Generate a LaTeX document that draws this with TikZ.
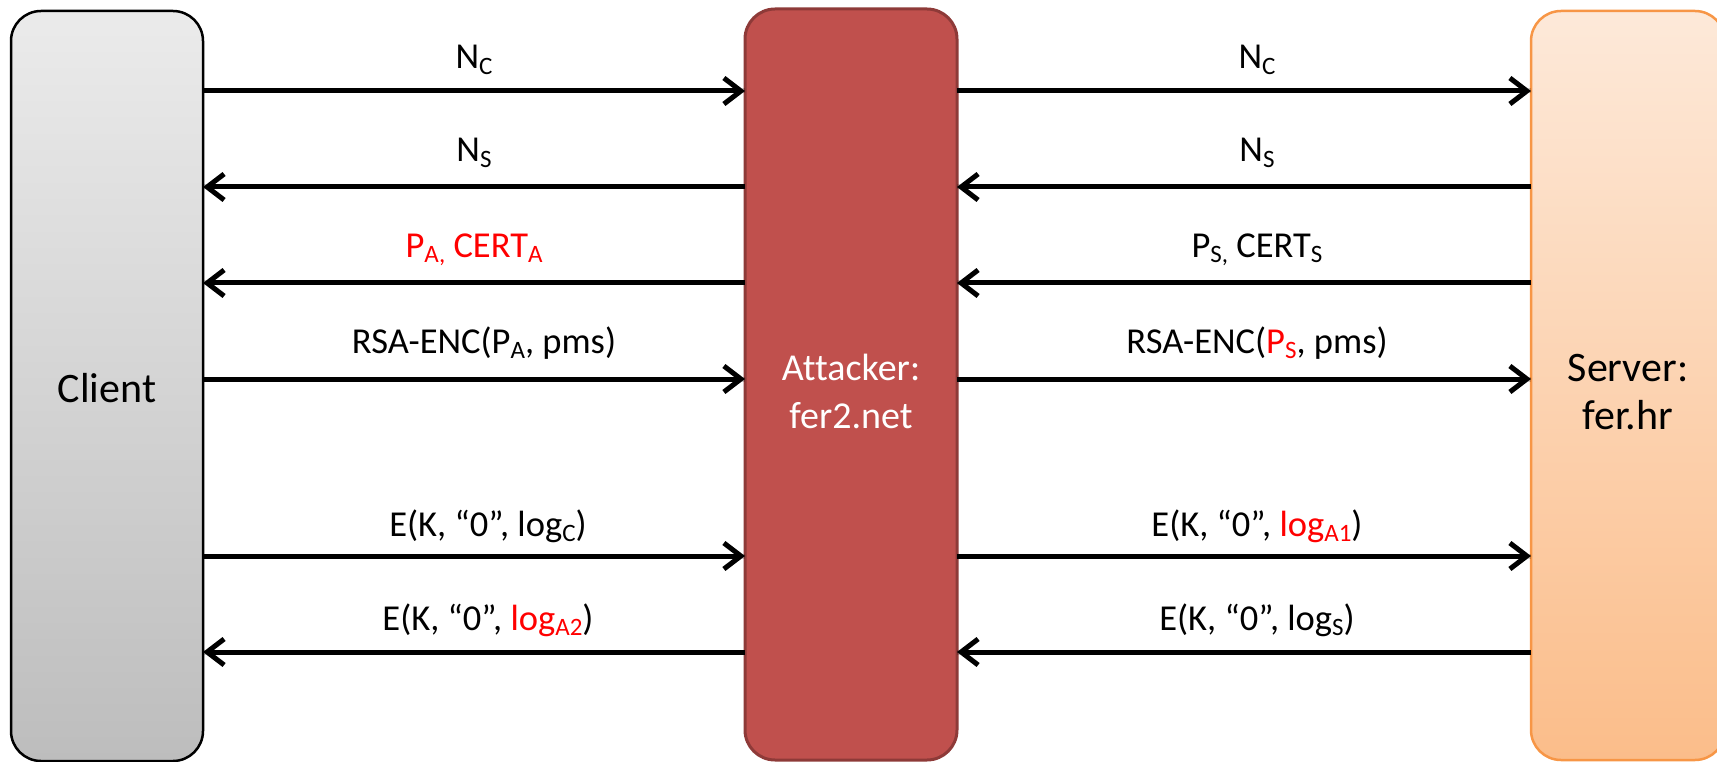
\documentclass[tikz,border=0pt]{standalone}
\usepackage{fontspec}
\setmainfont{Carlito}[Ligatures=NoCommon]
\usetikzlibrary{arrows.meta}

\definecolor{clienttop}{HTML}{EBEBEB}
\definecolor{clientbot}{HTML}{BDBDBD}
\definecolor{attfill}{HTML}{C0504D}
\definecolor{attline}{HTML}{8E3A38}
\definecolor{srvtop}{HTML}{FDE9D9}
\definecolor{srvbot}{HTML}{FBBD8A}
\definecolor{srvline}{HTML}{F79646}
\definecolor{hot}{HTML}{FF0000}

% lowered, smaller index text
\newcommand\lo[1]{\raisebox{-5.5pt}{\fontsize{25}{25}\selectfont #1}}

\tikzset{
  party/.style={rounded corners=30pt, inner sep=0pt, outer sep=0pt},
  partyname/.style={align=center, inner sep=0pt, font=\fontsize{42}{48}\selectfont},
  msg/.style={line width=5pt, -{Straight Barb[length=17pt,width=26pt]}},
  msgshadow/.style={line width=5pt, black, opacity=0.18, yshift=-3.5pt, xshift=1pt},
  lbl/.style={font=\fontsize{36.5}{43}\selectfont, inner sep=0pt}
}

\begin{document}
\begin{tikzpicture}[x=1pt,y=-1pt]
\useasboundingbox (0,0) rectangle (1717,762);

% the three parties
\node[party, draw=black, line width=2.5pt, top color=clienttop, bottom color=clientbot,
      minimum width=192pt, minimum height=750pt] (client) at (107,386) {};
\node[party, draw=attline, line width=3pt, fill=attfill,
      minimum width=212pt, minimum height=751pt] (attacker) at (851,384.5) {};
\node[party, draw=srvline, line width=2.5pt, top color=srvtop, bottom color=srvbot,
      minimum width=194pt, minimum height=749pt] (server) at (1628,385.5) {};

\node[partyname] (clientname) at ([yshift=-2pt]client.center) {Client};
\node[partyname, text=white, font=\fontsize{38}{48}\selectfont]
     (attackername) at ([yshift=-7pt]attacker.center) {Attacker:\\fer2.net};
\node[partyname] (servername) at ([yshift=-7pt]server.center) {Server:\\fer.hr};

% message rows
\coordinate (r1) at (0,91);
\coordinate (r2) at (0,187);
\coordinate (r3) at (0,283);
\coordinate (r4) at (0,379);
\coordinate (r5) at (0,556);
\coordinate (r6) at (0,652);

% soft shadows under the message lines
\foreach \r in {r1,r2,r3,r4,r5,r6}{
  \draw[msgshadow] (client.east |- \r) -- (attacker.west |- \r);
  \draw[msgshadow] (attacker.east |- \r) -- (server.west |- \r);
}

% client <-> attacker
\draw[msg] (client.east |- r1) -- (attacker.west |- r1);
\draw[msg] (attacker.west |- r2) -- (client.east |- r2);
\draw[msg] (attacker.west |- r3) -- (client.east |- r3);
\draw[msg] (client.east |- r4) -- (attacker.west |- r4);
\draw[msg] (client.east |- r5) -- (attacker.west |- r5);
\draw[msg] (attacker.west |- r6) -- (client.east |- r6);

% attacker <-> server
\draw[msg] (attacker.east |- r1) -- (server.west |- r1);
\draw[msg] (server.west |- r2) -- (attacker.east |- r2);
\draw[msg] (server.west |- r3) -- (attacker.east |- r3);
\draw[msg] (attacker.east |- r4) -- (server.west |- r4);
\draw[msg] (attacker.east |- r5) -- (server.west |- r5);
\draw[msg] (server.west |- r6) -- (attacker.east |- r6);

% labels, left side
\node[lbl] (l1) at (474,60)  {N\lo{C}};
\node[lbl] (l2) at (474,153) {N\lo{S}};
\node[lbl, text=hot] (l3) at (474,250) {P\lo{A,} CERT\lo{A}};
\node[lbl] (l4) at (484,343) {RSA-ENC(P\lo{A}, pms)};
\node[lbl] (l5) at (488,526) {E(K, “0”, log\lo{C})};
\node[lbl] (l6) at (488,620) {E(K, “0”, \textcolor{hot}{log\lo{A2}})};

% labels, right side
\node[lbl] (m1) at (1257,60)  {N\lo{C}};
\node[lbl] (m2) at (1257,153) {N\lo{S}};
\node[lbl] (m3) at (1257,250) {P\lo{S,} CERT\lo{S}};
\node[lbl] (m4) at (1257,343) {RSA-ENC(\textcolor{hot}{P\lo{S}}, pms)};
\node[lbl] (m5) at (1257,526) {E(K, “0”, \textcolor{hot}{log\lo{A1}})};
\node[lbl] (m6) at (1257,620) {E(K, “0”, log\lo{S})};
\end{tikzpicture}
\end{document}
